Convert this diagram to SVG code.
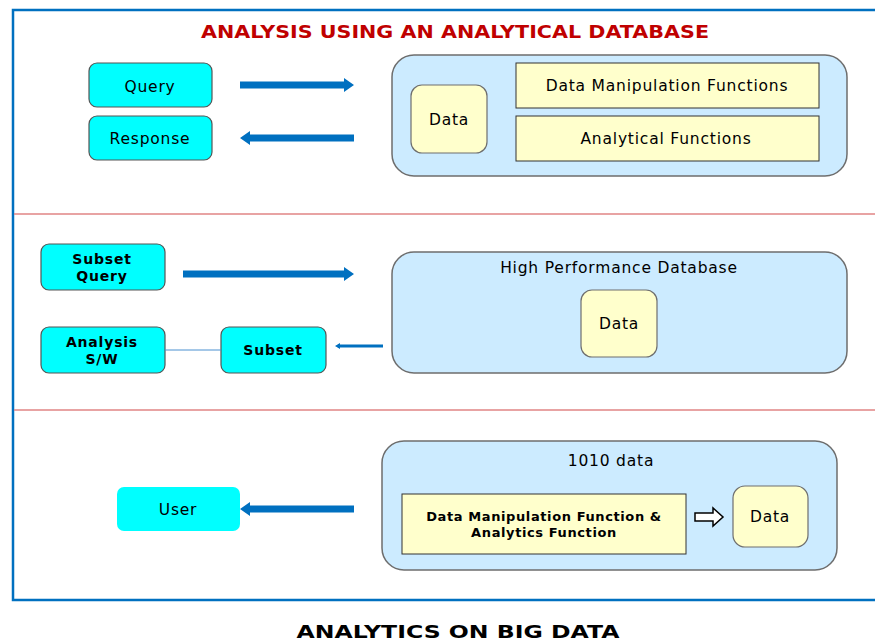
<svg xmlns="http://www.w3.org/2000/svg" width="875" height="644" viewBox="0 0 875 644">
  <style>
    text { font-family: "DejaVu Sans", Verdana, sans-serif; fill: #000; text-anchor: middle; }
    .title { font-size: 18px; font-weight: bold; fill: #C00000; }
    .foot { font-size: 17px; font-weight: bold; }
    .lbl { font-size: 15.5px; letter-spacing: 0.8px; }
    .blbl { font-size: 14px; font-weight: bold; letter-spacing: 0.8px; }
    .small { font-size: 13px; font-weight: bold; letter-spacing: 0.6px; }
    .client { fill: #00FFFF; stroke: #555; stroke-width: 1.2; }
    .plain { fill: #00FFFF; }
    .db { fill: #CCEBFF; stroke: #6E6E6E; stroke-width: 1.5; }
    .store { fill: #FFFFCC; stroke: #6E6E6E; stroke-width: 1.2; }
    .func { fill: #FFFFCC; stroke: #333; stroke-width: 1; }
    .divider { stroke: #E08585; stroke-width: 1.5; }
    .frame { fill: none; stroke: #0070C0; stroke-width: 2.5; }
    .arrow { fill: #0070C0; }
    .link { stroke: #4A90D0; stroke-width: 1; }
  </style>

  <!-- outer frame and section dividers -->
  <path class="frame" d="M876 10 H13 V600 H876"/>
  <line class="divider" x1="14" y1="214" x2="875" y2="214"/>
  <line class="divider" x1="14" y1="410" x2="875" y2="410"/>

  <text class="title" x="455" y="38" textLength="508" lengthAdjust="spacingAndGlyphs">ANALYSIS USING AN ANALYTICAL DATABASE</text>

  <!-- section 1: analytical database -->
  <g id="query">
    <rect class="client" x="89" y="63" width="123" height="44" rx="8"/>
    <text class="lbl" x="150" y="92">Query</text>
  </g>
  <g id="response">
    <rect class="client" x="89" y="116" width="123" height="44" rx="8"/>
    <text class="lbl" x="150" y="144">Response</text>
  </g>
  <g id="analytical-db">
    <rect class="db" x="392" y="55" width="455" height="121" rx="22"/>
  </g>
  <g id="data-1">
    <rect class="store" x="411" y="85" width="76" height="68" rx="11"/>
    <text class="lbl" x="449" y="125">Data</text>
  </g>
  <g id="data-manipulation">
    <rect class="func" x="516" y="63" width="303" height="45"/>
    <text class="lbl" x="667" y="91">Data Manipulation Functions</text>
  </g>
  <g id="analytical-functions">
    <rect class="func" x="516" y="116" width="303" height="45"/>
    <text class="lbl" x="666" y="144">Analytical Functions</text>
  </g>

  <!-- section 2: high performance database -->
  <g id="subset-query">
    <rect class="client" x="41" y="244" width="124" height="46" rx="8"/>
    <text class="blbl" x="102" y="264">Subset</text>
    <text class="blbl" x="102" y="281">Query</text>
  </g>
  <g id="analysis-sw">
    <rect class="client" x="41" y="327" width="124" height="46" rx="8"/>
    <text class="blbl" x="102" y="347">Analysis</text>
    <text class="blbl" x="102" y="364">S/W</text>
  </g>
  <g id="subset">
    <rect class="client" x="221" y="327" width="105" height="46" rx="8"/>
    <text class="blbl" x="273" y="355">Subset</text>
  </g>
  <g id="hp-db">
    <rect class="db" x="392" y="252" width="455" height="121" rx="22"/>
    <text class="lbl" x="619" y="273">High Performance Database</text>
  </g>
  <g id="data-2">
    <rect class="store" x="581" y="290" width="76" height="67" rx="11"/>
    <text class="lbl" x="619" y="329">Data</text>
  </g>

  <!-- section 3: 1010 data -->
  <g id="user">
    <rect class="plain" x="117" y="487" width="123" height="44" rx="7"/>
    <text class="lbl" x="178" y="515">User</text>
  </g>
  <g id="db-1010">
    <rect class="db" x="382" y="441" width="455" height="129" rx="22"/>
    <text class="lbl" x="611" y="466">1010 data</text>
  </g>
  <g id="functions-1010">
    <rect class="func" x="402" y="494" width="284" height="60"/>
    <text class="small" x="544" y="521">Data Manipulation Function &amp;</text>
    <text class="small" x="544" y="537">Analytics Function</text>
  </g>
  <g id="data-3">
    <rect class="store" x="733" y="486" width="75" height="61" rx="12"/>
    <text class="lbl" x="770" y="522">Data</text>
  </g>

  <!-- connectors -->
  <g id="connectors">
    <polygon class="arrow" points="240,81.5 344,81.5 344,78 354,85 344,92 344,88.5 240,88.5"/>
    <polygon class="arrow" points="354,134.5 250,134.5 250,131 240,138 250,145 250,141.5 354,141.5"/>
    <polygon class="arrow" points="183,270.5 344,270.5 344,267 354,274 344,281 344,277.5 183,277.5"/>
    <line class="link" x1="165" y1="350" x2="221" y2="350"/>
    <polygon class="arrow" points="383,344.5 340,344.5 340,343 335,346 340,349 340,347.5 383,347.5"/>
    <polygon class="arrow" points="354,505.5 250,505.5 250,502 240,509 250,516 250,512.5 354,512.5"/>
    <polygon fill="#fff" stroke="#000" stroke-width="1.5" points="695,513 713,513 713,508 723,517 713,526 713,521 695,521"/>
  </g>

  <text class="foot" x="458" y="638" textLength="323" lengthAdjust="spacingAndGlyphs">ANALYTICS ON BIG DATA</text>
</svg>
